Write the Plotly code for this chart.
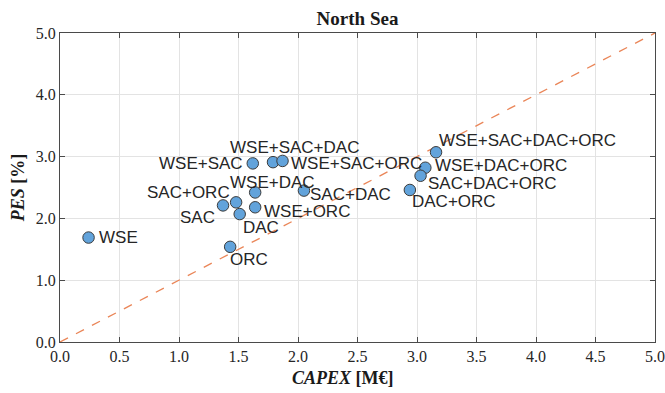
import plotly.graph_objects as go

# Configurations and their capital cost / primary energy saving
configs = ["WSE", "ORC", "DAC", "SAC", "SAC+ORC", "WSE+DAC", "WSE+ORC", "WSE+SAC",
           "WSE+SAC+DAC", "WSE+SAC+ORC", "SAC+DAC", "WSE+SAC+DAC+ORC",
           "WSE+DAC+ORC", "SAC+DAC+ORC", "DAC+ORC"]
capex = [0.24, 1.43, 1.51, 1.37, 1.48, 1.64, 1.64, 1.62,
         1.79, 1.87, 2.05, 3.16, 3.07, 3.03, 2.94]
pes = [1.69, 1.54, 2.07, 2.21, 2.26, 2.42, 2.18, 2.89,
       2.91, 2.93, 2.45, 3.07, 2.82, 2.69, 2.46]

# Parity line CAPEX = PES
parity_x = [0.0, 5.0]
parity_y = [0.0, 5.0]

x_ticks = [0.0, 0.5, 1.0, 1.5, 2.0, 2.5, 3.0, 3.5, 4.0, 4.5, 5.0]
y_ticks = [0.0, 1.0, 2.0, 3.0, 4.0, 5.0]

# Label placement per configuration: (xanchor, xshift px, yshift px)
label_place = {
    "WSE": ("left", 8, 0),
    "ORC": ("left", -2, -13),
    "DAC": ("left", 1, -13),
    "SAC": ("right", -6, -12),
    "SAC+ORC": ("right", -4, 10),
    "WSE+DAC": ("center", 17, 10),
    "WSE+ORC": ("left", 7, -4),
    "WSE+SAC": ("right", -8, 0),
    "WSE+SAC+DAC": ("center", 21, 15),
    "WSE+SAC+ORC": ("left", 6, -3),
    "SAC+DAC": ("left", 4, -4),
    "WSE+SAC+DAC+ORC": ("left", 1, 12),
    "WSE+DAC+ORC": ("left", 8, 2),
    "SAC+DAC+ORC": ("left", 5, -8),
    "DAC+ORC": ("left", 0, -12),
}

serif = "Liberation Serif, Times New Roman, serif"
sans = "Liberation Sans, Arial, sans-serif"

fig = go.Figure()
fig.add_trace(go.Scatter(
    x=parity_x, y=parity_y, mode="lines",
    line=dict(color="#ea8557", width=1.3, dash="dash"),
    hoverinfo="skip", showlegend=False,
))
fig.add_trace(go.Scatter(
    x=capex, y=pes, mode="markers", text=configs,
    marker=dict(size=11.5, color="#62a3db", line=dict(color="#3c3c3c", width=1)),
    showlegend=False,
))

for name, cx, py in zip(configs, capex, pes):
    anchor, dx, dy = label_place[name]
    fig.add_annotation(
        x=cx, y=py, text=name, showarrow=False,
        xanchor=anchor, yanchor="middle", xshift=dx, yshift=dy,
        font=dict(family=sans, size=17, color="#262626"),
    )

# x-axis title, placed slightly left of the plot centre
fig.add_annotation(
    text="<b><i>CAPEX</i> [M€]</b>", xref="paper", yref="paper",
    x=(343 - 60) / 595, y=-(378 - 341.7) / 308.7, xanchor="center", yanchor="middle",
    showarrow=False, font=dict(family=serif, size=18, color="#1a1a1a"),
)

axis_common = dict(
    range=[0, 5], showgrid=True, gridcolor="#e3e3e3", gridwidth=1,
    zeroline=False, showline=True, linecolor="#4a4a4a", linewidth=1,
    mirror="ticks", ticks="inside", ticklen=5, tickcolor="#4a4a4a",
    tickformat=".1f", automargin=False,
    tickfont=dict(family=serif, size=16, color="#262626"),
)

fig.update_layout(
    width=665, height=393,
    margin=dict(l=60, r=10, t=33, b=51, autoexpand=False),
    paper_bgcolor="white", plot_bgcolor="white",
    title=dict(
        text="<b>North Sea</b>", x=(60 + 655) / 2 / 665, xanchor="center",
        y=1 - 18 / 393, yanchor="middle", yref="container",
        font=dict(family=serif, size=19, color="#1a1a1a"),
    ),
    xaxis=dict(**axis_common, tickvals=x_ticks),
    yaxis=dict(
        **axis_common, tickvals=y_ticks,
        title=dict(text="<b><i>PES</i> [%]</b>", standoff=6,
                   font=dict(family=serif, size=18, color="#1a1a1a")),
    ),
)

fig.write_html("out.html")
